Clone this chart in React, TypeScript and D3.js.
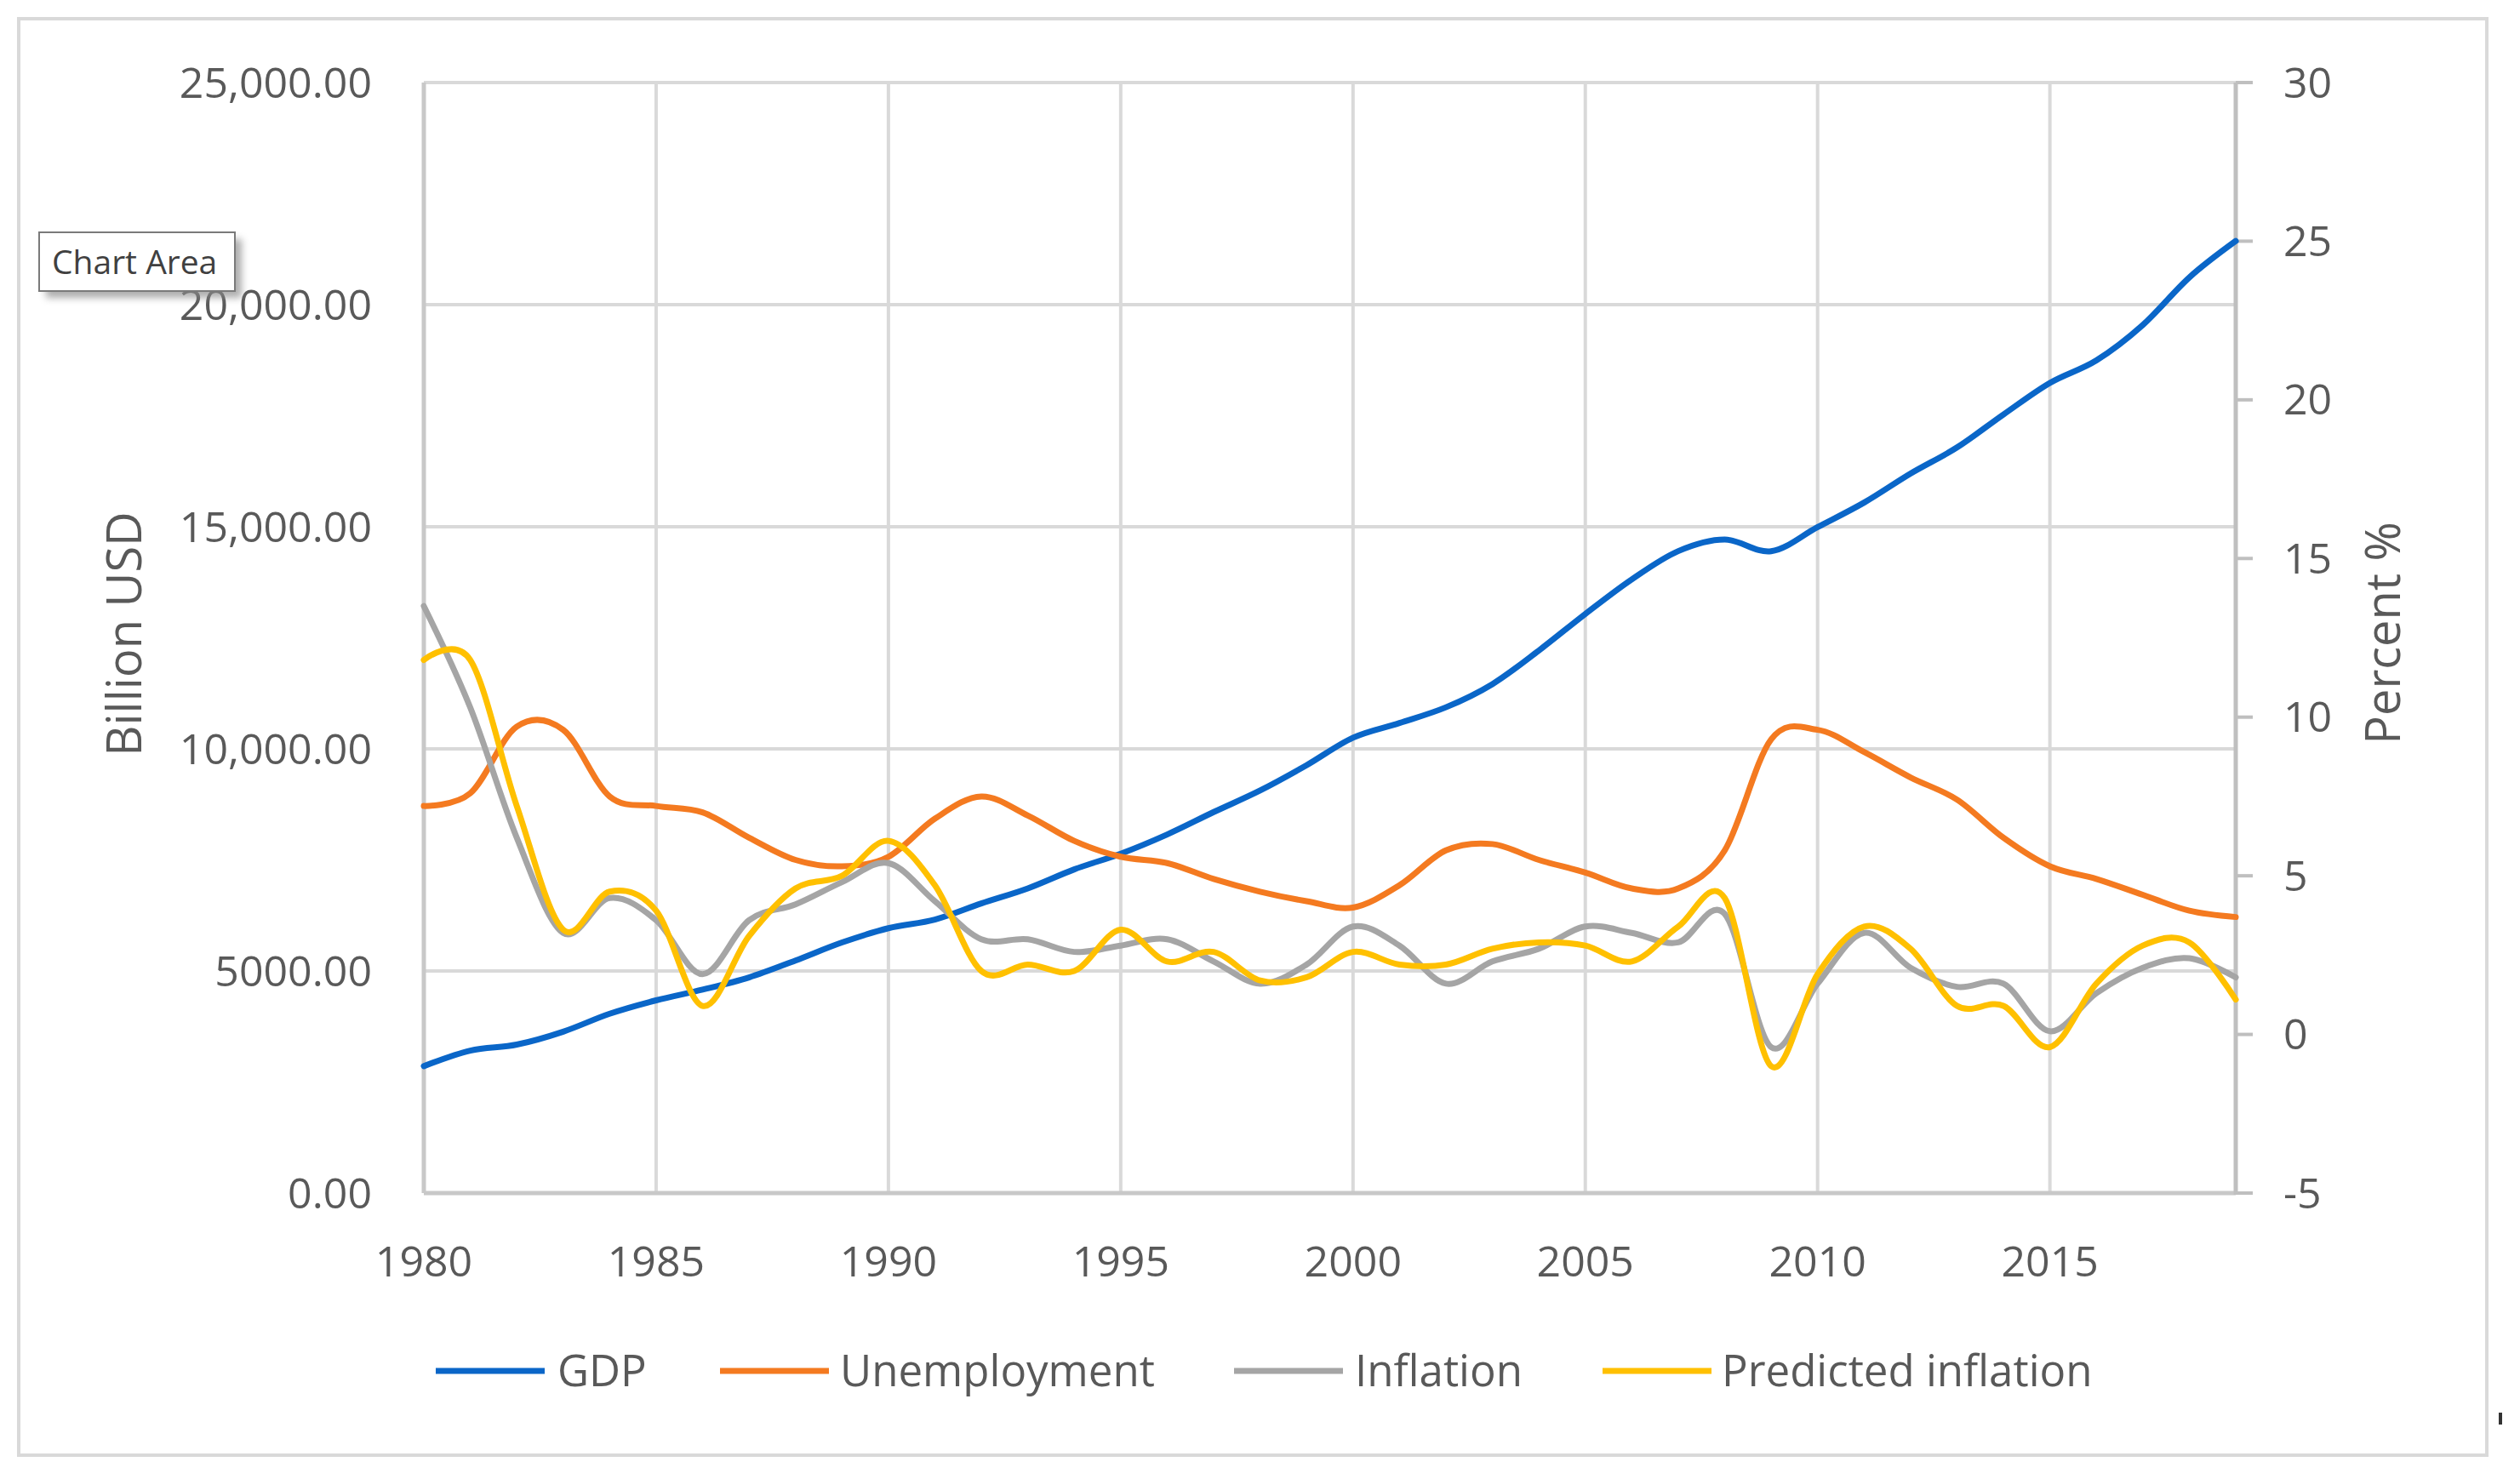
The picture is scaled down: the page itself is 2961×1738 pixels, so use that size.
import * as d3 from "d3";

const years = d3.range(1980, 2020);

// GDP, billion USD (left axis)
const gdp = [
  2857, 3207, 3343, 3634, 4037, 4339, 4580, 4855, 5236, 5641,
  5963, 6158, 6520, 6859, 7287, 7640, 8073, 8577, 9063, 9631,
  10252, 10582, 10936, 11458, 12214, 13037, 13815, 14452, 14713, 14449,
  14992, 15543, 16197, 16785, 17527, 18238, 18745, 19543, 20612, 21433,
];

// percent series (right axis)
const unemployment = [
  7.2, 7.6, 9.7, 9.6, 7.5, 7.2, 7.0, 6.2, 5.5, 5.3,
  5.6, 6.8, 7.5, 6.9, 6.1, 5.6, 5.4, 4.9, 4.5, 4.2,
  4.0, 4.7, 5.8, 6.0, 5.5, 5.1, 4.6, 4.6, 5.8, 9.3,
  9.6, 8.9, 8.1, 7.4, 6.2, 5.3, 4.9, 4.4, 3.9, 3.7,
];
const inflation = [
  13.5, 10.3, 6.2, 3.2, 4.3, 3.6, 1.9, 3.6, 4.1, 4.8,
  5.4, 4.2, 3.0, 3.0, 2.6, 2.8, 3.0, 2.3, 1.6, 2.2,
  3.4, 2.8, 1.6, 2.3, 2.7, 3.4, 3.2, 2.9, 3.8, -0.4,
  1.6, 3.2, 2.1, 1.5, 1.6, 0.1, 1.3, 2.1, 2.4, 1.8,
];
const predicted = [
  11.8, 11.8, 7.2, 3.3, 4.5, 3.9, 0.9, 3.1, 4.6, 5.0,
  6.1, 4.7, 2.0, 2.2, 2.0, 3.3, 2.3, 2.6, 1.7, 1.8,
  2.6, 2.2, 2.2, 2.7, 2.9, 2.8, 2.3, 3.4, 4.3, -1.0,
  1.9, 3.4, 2.7, 0.9, 0.9, -0.4, 1.6, 2.8, 2.9, 1.1,
];

const xTicks = [1980, 1985, 1990, 1995, 2000, 2005, 2010, 2015];
const leftTicks = [0, 5000, 10000, 15000, 20000, 25000];
const leftTickLabels = ["0.00", "5000.00", "10,000.00", "15,000.00", "20,000.00", "25,000.00"];
const rightTicks = [-5, 0, 5, 10, 15, 20, 25, 30];

const seriesNames = ["GDP", "Unemployment", "Inflation", "Predicted inflation"];
const seriesColors = ["#0a66c8", "#f47a20", "#a5a5a5", "#ffc000"];

const W = 2961;
const H = 1738;
const PLOT = { left: 498, right: 2627, top: 97, bottom: 1402 };
const FONT = "'Open Sans', 'Noto Sans', sans-serif";
const INK = "#595959";

// legend layout: line start x and text start x for each entry
const LEGEND_Y = 1611;
const legendLineX = [512, 846, 1450, 1883];
const legendTextX = [655, 987, 1592, 2023];

export default function App() {
  const x = d3.scaleLinear().domain([1980, 2019]).range([PLOT.left, PLOT.right]);
  const yL = d3.scaleLinear().domain([0, 25000]).range([PLOT.bottom, PLOT.top]);
  const yR = d3.scaleLinear().domain([-5, 30]).range([PLOT.bottom, PLOT.top]);

  const curve = d3.curveCardinal.tension(0);
  const lineL = d3
    .line<number>()
    .x((_, i) => x(years[i]))
    .y((d) => yL(d))
    .curve(curve);
  const lineR = d3
    .line<number>()
    .x((_, i) => x(years[i]))
    .y((d) => yR(d))
    .curve(curve);

  const paths = [lineL(gdp), lineR(unemployment), lineR(inflation), lineR(predicted)];

  return (
    <svg
      width={W}
      height={H}
      style={{ position: "absolute", left: 0, top: 0, display: "block", background: "#fff" }}
    >
      <defs>
        <filter id="shadow" x="-20%" y="-20%" width="140%" height="160%">
          <feGaussianBlur stdDeviation="4" />
        </filter>
      </defs>
      <rect x={0} y={0} width={W} height={H} fill="#fff" />
      {/* chart area border */}
      <rect x={22} y={22} width={2900} height={1688} fill="none" stroke="#d9d9d9" strokeWidth={4} />

      {/* horizontal gridlines */}
      {leftTicks.slice(1).map((t) => (
        <line key={"h" + t} x1={PLOT.left} x2={PLOT.right} y1={yL(t)} y2={yL(t)} stroke="#d9d9d9" strokeWidth={4} />
      ))}
      {/* vertical gridlines */}
      {xTicks.slice(1).map((t) => (
        <line key={"v" + t} x1={x(t)} x2={x(t)} y1={PLOT.top} y2={PLOT.bottom} stroke="#d9d9d9" strokeWidth={4} />
      ))}
      {/* axes */}
      <line x1={PLOT.left} x2={PLOT.left} y1={PLOT.top} y2={PLOT.bottom} stroke="#c8c8c8" strokeWidth={5} />
      <line x1={PLOT.left} x2={PLOT.right} y1={PLOT.bottom} y2={PLOT.bottom} stroke="#c8c8c8" strokeWidth={5} />
      <line x1={PLOT.right} x2={PLOT.right} y1={PLOT.top} y2={PLOT.bottom + 2} stroke="#bfbfbf" strokeWidth={5} />
      {rightTicks.map((t) => (
        <line key={"rt" + t} x1={PLOT.right} x2={PLOT.right + 20} y1={yR(t)} y2={yR(t)} stroke="#bfbfbf" strokeWidth={4} />
      ))}

      {/* series */}
      {paths.map((d, i) => (
        <path
          key={seriesNames[i]}
          d={d ?? ""}
          fill="none"
          stroke={seriesColors[i]}
          strokeWidth={7}
          strokeLinejoin="round"
          strokeLinecap="round"
        />
      ))}

      {/* left tick labels */}
      {leftTicks.map((t, i) => (
        <text key={"lt" + t} x={PLOT.left - 61} y={yL(t)} dy="0.35em" textAnchor="end" fontFamily={FONT} fontSize={50} fill={INK}>
          {leftTickLabels[i]}
        </text>
      ))}
      {/* right tick labels */}
      {rightTicks.map((t) => (
        <text key={"rl" + t} x={PLOT.right + 56} y={yR(t)} dy="0.35em" textAnchor="start" fontFamily={FONT} fontSize={50} fill={INK}>
          {t}
        </text>
      ))}
      {/* x tick labels */}
      {xTicks.map((t) => (
        <text key={"xl" + t} x={x(t)} y={PLOT.bottom + 80} dy="0.35em" textAnchor="middle" fontFamily={FONT} fontSize={50} fill={INK}>
          {t}
        </text>
      ))}

      {/* axis titles */}
      <text transform="translate(146,745) rotate(-90)" dy="0.35em" textAnchor="middle" fontFamily={FONT} fontSize={56} fill={INK}>
        Billion USD
      </text>
      <text transform="translate(2800,744) rotate(-90)" dy="0.35em" textAnchor="middle" fontFamily={FONT} fontSize={56} fill={INK}>
        Percent %
      </text>

      {/* legend */}
      {seriesNames.map((name, i) => (
        <g key={"lg" + name}>
          <line x1={legendLineX[i]} x2={legendLineX[i] + 128} y1={LEGEND_Y} y2={LEGEND_Y} stroke={seriesColors[i]} strokeWidth={7} />
          <text x={legendTextX[i]} y={LEGEND_Y} dy="0.35em" fontFamily={FONT} fontSize={51} fill={INK}>
            {name}
          </text>
        </g>
      ))}

      {/* "Chart Area" tooltip */}
      <rect x={54} y={281} width={230} height={69} fill="#8a8a8a" opacity={0.7} filter="url(#shadow)" />
      <rect x={46} y={273} width={230} height={69} fill="#fff" stroke="#7a7a7a" strokeWidth={2} />
      <text x={61} y={308} dy="0.35em" fontFamily={FONT} fontSize={39} fill="#404040">
        Chart Area
      </text>

      {/* resize handle mark */}
      <rect x={2936} y={1660} width={4} height={14} fill="#333" />
    </svg>
  );
}
